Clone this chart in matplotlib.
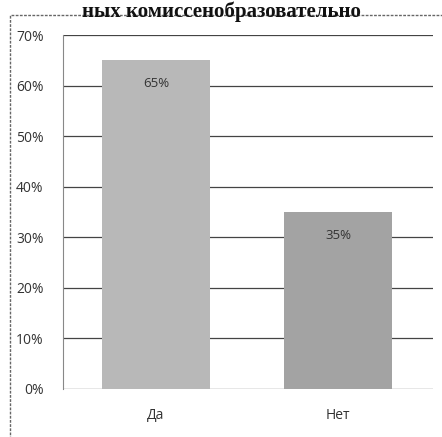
import matplotlib
matplotlib.use("Agg")
import matplotlib.pyplot as plt
from matplotlib.patches import Rectangle

categories = ["Да", "Нет"]
values = [65, 35]
labels = ["65%", "35%"]
yticks = [0, 10, 20, 30, 40, 50, 60, 70]
colors = ["#b8b8b8", "#a3a3a3"]

plt.rcParams['font.family'] = ['Open Sans', 'DejaVu Sans']

fig = plt.figure(figsize=(4.42, 4.37), dpi=100)
fig.patch.set_facecolor("white")

# outer frame
fig.add_artist(Rectangle((10/442, -0.01), 1.0, 1 - 15/437 + 0.01, transform=fig.transFigure,
                         fill=False, edgecolor="#666666", linewidth=1.0, linestyle=(0, (2, 1))))

# heading text (cropped in the scan)
fig.text(0.5, 1 - 17/437, "ных комиссенобразовательно", ha="center", va="baseline",
         fontsize=15, fontweight="bold", family=["Liberation Serif", "DejaVu Serif"], color="#111111",
         zorder=5)

ax = fig.add_axes([63/442, 1 - 389/437, (433 - 63)/442, (389 - 35)/437])
x = list(range(len(categories)))
bars = ax.bar(x, values, width=0.59, color=colors, zorder=2)
for xi, v, lab in zip(x, values, labels):
    ax.text(xi, v - 4.6, lab, ha="center", va="center", fontsize=9.5, color="#333333", zorder=3)

ax.set_ylim(0, 70)
ax.set_xlim(-0.51, 1.52)
ax.set_yticks(yticks)
ax.set_yticklabels([f"{t}%" for t in yticks], fontsize=10, color="#333333")
ax.set_xticks(x)
ax.set_xticklabels(categories, fontsize=10, color="#333333")
ax.tick_params(axis="y", length=0, pad=14)
ax.tick_params(axis="x", length=0, pad=14)
ax.yaxis.grid(True, color="#444444", linewidth=0.9, zorder=0)
ax.set_axisbelow(True)
for s in ["top", "right", "bottom"]:
    ax.spines[s].set_visible(False)
ax.spines["left"].set_color("#888888")
ax.spines["left"].set_linewidth(0.8)

fig.savefig("out.png", dpi=100)
